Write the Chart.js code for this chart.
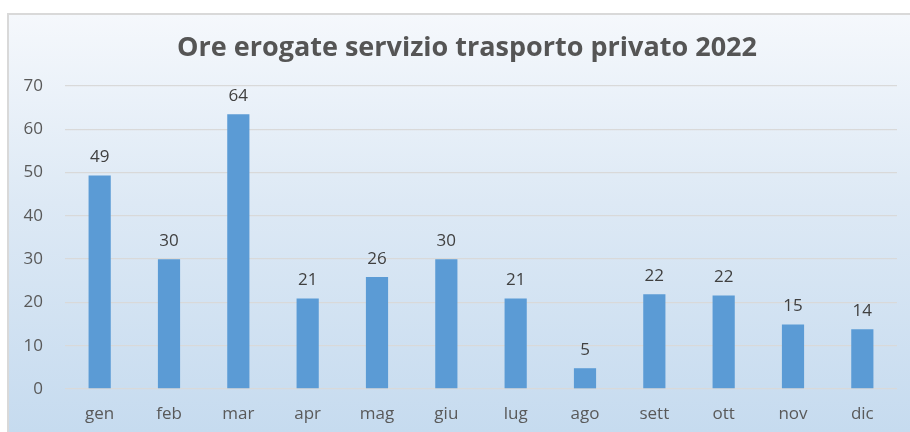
<!DOCTYPE html>
<html>
<head>
<meta charset="utf-8">
<script src="https://cdn.jsdelivr.net/npm/chart.js@4.4.0/dist/chart.umd.min.js"></script>
<style>
  html, body { margin: 0; padding: 0; background: #ffffff; }
  #frame {
    position: absolute; left: 7px; top: 13px; width: 903px; height: 419px;
    box-sizing: border-box;
    border-top: 2px solid #d9d9d9; border-left: 2px solid #d9d9d9;
    background: linear-gradient(to bottom, #f5f8fc 0%, #dde9f5 45%, #c6dbef 100%);
  }
  #c { position: absolute; left: -2px; top: -2px; }
</style>
</head>
<body>
<div id="frame"><canvas id="c" width="903" height="419"></canvas></div>
<script>
const categories = ['gen','feb','mar','apr','mag','giu','lug','ago','sett','ott','nov','dic'];
const hours = [49.3, 30, 63.5, 20.9, 25.9, 30, 20.9, 4.8, 21.9, 21.6, 14.9, 13.8];
const yTicks = [0, 10, 20, 30, 40, 50, 60, 70];
const titleText = 'Ore erogate servizio trasporto privato 2022';

const valueLabels = {
  id: 'valueLabels',
  afterDatasetsDraw(chart) {
    const ctx = chart.ctx;
    const meta = chart.getDatasetMeta(0);
    ctx.save();
    ctx.font = '17px "Open Sans"';
    ctx.fillStyle = '#404040';
    ctx.textAlign = 'center';
    ctx.textBaseline = 'middle';
    meta.data.forEach((bar, i) => {
      ctx.fillText(String(Math.round(hours[i])), bar.x, bar.y - 18);
    });
    ctx.restore();
  }
};

const chartTitle = {
  id: 'chartTitle',
  afterDraw(chart) {
    const ctx = chart.ctx;
    ctx.save();
    ctx.font = 'bold 27px "Open Sans"';
    ctx.fillStyle = '#555555';
    ctx.textAlign = 'center';
    ctx.textBaseline = 'middle';
    const cx = (chart.chartArea.left + chart.chartArea.right) / 2 - 14;
    ctx.fillText(titleText, cx, chart.chartArea.top - 38);
    ctx.restore();
  }
};

new Chart(document.getElementById('c'), {
  type: 'bar',
  data: {
    labels: categories,
    datasets: [{
      data: hours,
      backgroundColor: '#5b9bd5',
      barPercentage: 0.32,
      categoryPercentage: 1.0
    }]
  },
  options: {
    responsive: false,
    animation: false,
    layout: { padding: { left: 0, right: 13, top: 73, bottom: 0 } },
    plugins: {
      legend: { display: false },
      tooltip: { enabled: false },
      title: { display: false }
    },
    scales: {
      x: {
        grid: { display: false },
        border: { display: false },
        ticks: { color: '#595959', font: { family: 'Open Sans', size: 17 }, padding: 7 },
        afterFit(scale) { scale.height = 43; }
      },
      y: {
        min: 0, max: 70,
        afterBuildTicks(scale) { scale.ticks = yTicks.map(v => ({ value: v })); },
        grid: { color: '#d9d9d9', lineWidth: 1.3, drawTicks: false },
        border: { display: false },
        ticks: { color: '#595959', font: { family: 'Open Sans', size: 17 }, padding: 22 },
        afterFit(scale) { scale.width = 58; }
      }
    }
  },
  plugins: [valueLabels, chartTitle]
});
</script>
</body>
</html>
